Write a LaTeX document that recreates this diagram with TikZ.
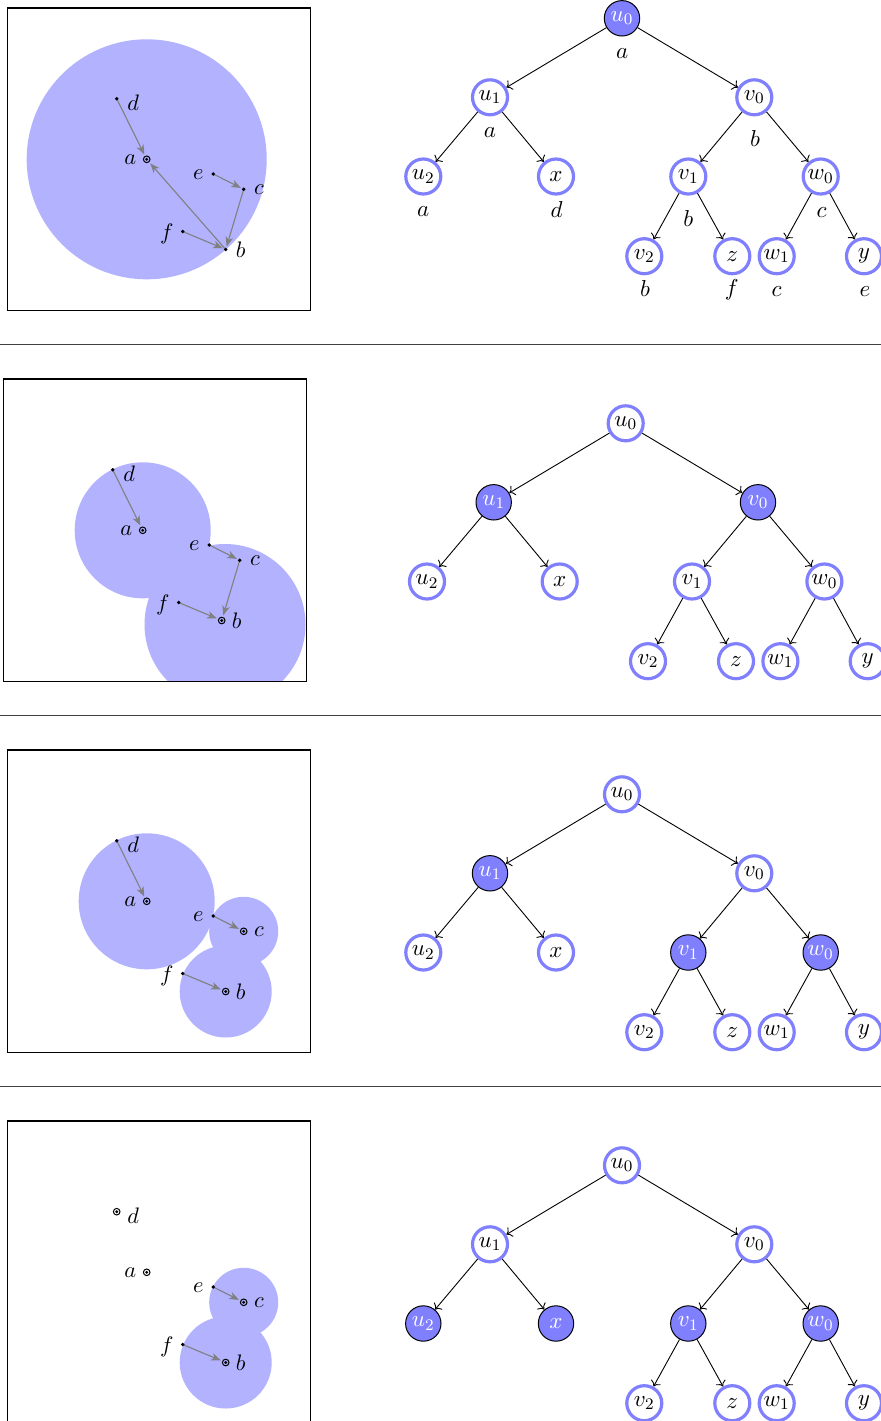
\RequirePackage{fix-cm}
\documentclass[tikz,border=0pt]{standalone}
\usetikzlibrary{arrows.meta}
\newcommand\mytreefont{\fontsize{11.5}{13}\selectfont}
\newcommand\myptfont{\fontsize{11.2}{13}\selectfont}
\tikzset{
  onode/.style={circle, draw=blue!50, line width=1.6pt, fill=white, text=black, minimum size=17.5pt, inner sep=0pt, font=\mytreefont},
  fnode/.style={circle, draw=black, line width=0.5pt, fill=blue!50, text=white, minimum size=17.7pt, inner sep=0pt, font=\mytreefont},
  tedge/.style={->, line width=0.45pt, draw=black},
  tlbl/.style={inner sep=0pt, font=\mytreefont},
  plbl/.style={inner sep=0pt, font=\myptfont},
  garrow/.style={-{Stealth[length=4.8pt,width=3.8pt,inset=1.4pt]}, draw=gray, line width=0.55pt},
  toroot/.style={shorten >=2.7pt},
  todot/.style={shorten >=1.6pt},
  disk/.style={fill=blue!30},
  boxframe/.style={draw=black, line width=0.55pt},
  sepline/.style={draw=black!75, line width=0.6pt},
}
\newcommand\drawtree[2]{%
  \tikzset{s-u0/.style=onode,s-u1/.style=onode,s-v0/.style=onode,s-u2/.style=onode,s-x/.style=onode,s-v1/.style=onode,s-w0/.style=onode,s-v2/.style=onode,s-z/.style=onode,s-w1/.style=onode,s-y/.style=onode,#2}%
  \node[s-u0] (#1u0) at (622,18.3) {$u_0$};
  \node[s-u1] (#1u1) at (490,97.3) {$u_1$};
  \node[s-v0] (#1v0) at (754.3,97.3) {$v_0$};
  \node[s-u2] (#1u2) at (423.3,176.5) {$u_2$};
  \node[s-x] (#1x) at (556,176.5) {$x$};
  \node[s-v1] (#1v1) at (688.3,176.5) {$v_1$};
  \node[s-w0] (#1w0) at (820.7,176.5) {$w_0$};
  \node[s-v2] (#1v2) at (644.3,256.2) {$v_2$};
  \node[s-z] (#1z) at (732.3,256.2) {$z$};
  \node[s-w1] (#1w1) at (776.7,256.2) {$w_1$};
  \node[s-y] (#1y) at (864,256.2) {$y$};
  \foreach \pp/\qq in {u0/u1,u0/v0,u1/u2,u1/x,v0/v1,v0/w0,v1/v2,v1/z,w0/w1,w0/y}
    {\draw[tedge] (#1\pp) -- (#1\qq);}
}
\newcommand\placepts[1]{%
  \coordinate (#1d) at (116.7,98.7);
  \coordinate (#1a) at (146.7,159.3);
  \coordinate (#1e) at (213.3,174);
  \coordinate (#1c) at (243.7,189.3);
  \coordinate (#1f) at (182.7,231.5);
  \coordinate (#1b) at (225.7,249.5);
}
\newcommand\ptlabels[1]{%
  \node[plbl] (#1ld) at (133.3,102.5) {$d$};
  \node[plbl] (#1la) at (130.3,159.5) {$a$};
  \node[plbl] (#1le) at (198.3,174.5) {$e$};
  \node[plbl] (#1lc) at (259,189.7) {$c$};
  \node[plbl] (#1lf) at (166.8,233.5) {$f$};
  \node[plbl] (#1lb) at (240.8,250) {$b$};
}
\newcommand\rootmark[1]{\fill (#1) circle (0.8pt); \draw[line width=0.5pt] (#1) circle (1.65pt);}
\newcommand\dotmark[1]{\fill (#1) circle (0.95pt);}
\newcommand\boxpath{(7.7,8) rectangle (310.6,310.4)}
\begin{document}
\begin{tikzpicture}[x=0.5pt,y=-0.5pt]
\clip (0,0) rectangle (881,1421);
\fill[white] (0,0) rectangle (881,1421);
% separators
\draw[sepline] (0,344.7) -- (881,344.7);
\draw[sepline] (0,715.7) -- (881,715.7);
\draw[sepline] (0,1086.7) -- (881,1086.7);
% ---------- panel 1 ----------
\begin{scope}
  \placepts{A}
  \begin{scope}\clip \boxpath; \fill[disk] (Aa) circle (60pt); \end{scope}
  \draw[boxframe] \boxpath;
  \draw[garrow,toroot] (Ad) -- (Aa);
  \draw[garrow,toroot] (Ab) -- (Aa);
  \draw[garrow,todot] (Ae) -- (Ac);
  \draw[garrow,todot] (Ac) -- (Ab);
  \draw[garrow,todot] (Af) -- (Ab);
  \dotmark{Ad}\dotmark{Ae}\dotmark{Ac}\dotmark{Af}\dotmark{Ab}
  \rootmark{Aa}
  \ptlabels{A}
\end{scope}
\begin{scope}
  \drawtree{TA}{s-u0/.style=fnode}
  \node[tlbl] (TAlu0) at (622.3,53.3) {$a$};
  \node[tlbl] (TAlu1) at (490,132.7) {$a$};
  \node[tlbl] (TAlv0) at (755,138.3) {$b$};
  \node[tlbl] (TAlu2) at (423.3,212) {$a$};
  \node[tlbl] (TAlx) at (556.7,210) {$d$};
  \node[tlbl] (TAlv1) at (688.3,218.3) {$b$};
  \node[tlbl] (TAlw0) at (821.7,212.8) {$c$};
  \node[tlbl] (TAlv2) at (645,288.3) {$b$};
  \node[tlbl] (TAlz) at (731.7,290) {$f$};
  \node[tlbl] (TAlw1) at (776.7,291.3) {$c$};
  \node[tlbl] (TAly) at (865,291.3) {$e$};
\end{scope}
% ---------- panel 2 ----------
\begin{scope}[shift={(-4,371)}]
  \placepts{B}
  \coordinate (Bbdisk) at (229,253.5);
  \begin{scope}\clip \boxpath; \fill[disk] (Ba) circle (34pt); \fill[disk] (Bbdisk) circle (40.25pt); \end{scope}
  \draw[boxframe] \boxpath;
  \draw[garrow,toroot] (Bd) -- (Ba);
  \draw[garrow,todot] (Be) -- (Bc);
  \draw[garrow,toroot] (Bc) -- (Bb);
  \draw[garrow,toroot] (Bf) -- (Bb);
  \dotmark{Bd}\dotmark{Be}\dotmark{Bc}\dotmark{Bf}
  \rootmark{Ba}\rootmark{Bb}
  \ptlabels{B}
\end{scope}
\begin{scope}[shift={(3.7,405)}]
  \drawtree{TB}{s-u1/.style=fnode,s-v0/.style=fnode}
\end{scope}
% ---------- panel 3 ----------
\begin{scope}[shift={(0,742)}]
  \placepts{C}
  \begin{scope}\clip \boxpath; \fill[disk] (Ca) circle (34pt); \fill[disk] (Cc) circle (17.25pt); \fill[disk] (Cb) circle (23pt); \end{scope}
  \draw[boxframe] \boxpath;
  \draw[garrow,toroot] (Cd) -- (Ca);
  \draw[garrow,toroot] (Ce) -- (Cc);
  \draw[garrow,toroot] (Cf) -- (Cb);
  \dotmark{Cd}\dotmark{Ce}\dotmark{Cf}
  \rootmark{Ca}\rootmark{Cc}\rootmark{Cb}
  \ptlabels{C}
\end{scope}
\begin{scope}[shift={(0,776)}]
  \drawtree{TC}{s-u1/.style=fnode,s-v1/.style=fnode,s-w0/.style=fnode}
\end{scope}
% ---------- panel 4 ----------
\begin{scope}[shift={(0,1113)}]
  \placepts{D}
  \begin{scope}\clip \boxpath; \fill[disk] (Dc) circle (17.25pt); \fill[disk] (Db) circle (23pt); \end{scope}
  \draw[boxframe] \boxpath;
  \draw[garrow,toroot] (De) -- (Dc);
  \draw[garrow,toroot] (Df) -- (Db);
  \dotmark{De}\dotmark{Df}
  \rootmark{Dd}\rootmark{Da}\rootmark{Dc}\rootmark{Db}
  \ptlabels{D}
\end{scope}
\begin{scope}[shift={(0,1147)}]
  \drawtree{TD}{s-u2/.style=fnode,s-x/.style=fnode,s-v1/.style=fnode,s-w0/.style=fnode}
\end{scope}
\end{tikzpicture}
\end{document}
